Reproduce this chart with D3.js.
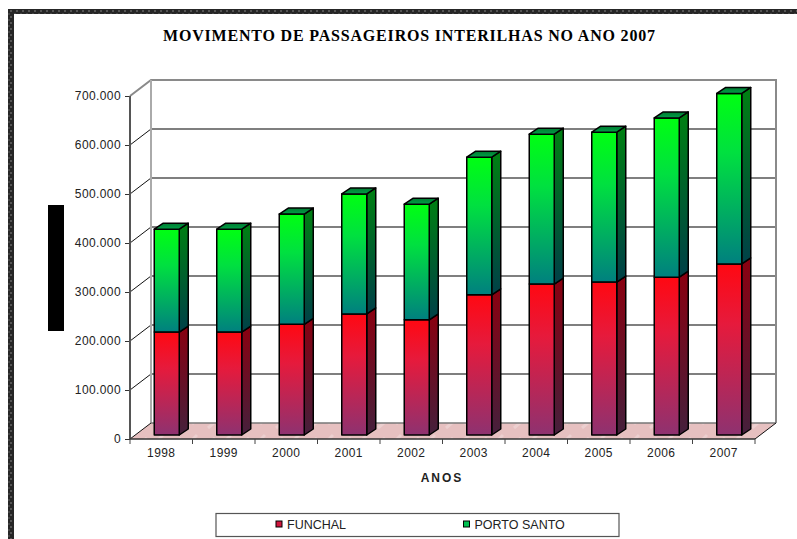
<!DOCTYPE html>
<html>
<head>
<meta charset="utf-8">
<script src="https://cdn.jsdelivr.net/npm/d3@7"></script>
<style>
  html, body { margin: 0; padding: 0; background: #fff; }
  svg { display: block; }
  text { font-family: "Liberation Sans", sans-serif; fill: #222; }
  .domain { display: none; }
</style>
</head>
<body>
<svg id="chart" width="797" height="539"></svg>
<script>
    // values
    const years = ["1998", "1999", "2000", "2001", "2002", "2003", "2004", "2005", "2006", "2007"];
    const funchal = [210000, 210000, 226000, 247000, 235000, 286000, 308000, 312000, 322000, 349000];
    const portoSanto = [210000, 210000, 225000, 245000, 236000, 281000, 306000, 306000, 325000, 348000];
    const yTicks = [0, 100000, 200000, 300000, 400000, 500000, 600000, 700000];
    const seriesNames = ["FUNCHAL", "PORTO SANTO"];

    let svg = d3.select("svg#chart");
    let defs = svg.append("defs");

    // 3D box of the chart: front plane, then how far the back wall is shifted
    let plot = { left: 130, right: 755, top: 96, bottom: 439 };
    let depth = { x: 21, y: -16 };
    // bars stand a bit inside the floor and take part of the depth
    let barShift = { x: 5.5, y: -4 };
    let barDepth = { x: 9, y: -6 };
    let barWidth = 25;

    const xScale = d3.scaleBand().domain(years).range([plot.left, plot.right]);
    const yScale = d3.scaleLinear().domain([0, 700000]).range([plot.bottom, plot.top]);
    const ptFormat = d3.formatLocale({ decimal: ",", thousands: ".", grouping: [3], currency: ["", ""] }).format(",");

    function verticalGradient(id, stops) {
      let g = defs.append("linearGradient").attr("id", id)
        .attr("x1", 0).attr("y1", 0).attr("x2", 0).attr("y2", 1);
      stops.forEach(s => g.append("stop").attr("offset", s[0]).attr("stop-color", s[1]));
    }
    verticalGradient("redFront", [["0%", "#ff0812"], ["35%", "#e61a3c"], ["100%", "#8e3270"]]);
    verticalGradient("redSide", [["0%", "#8a0010"], ["100%", "#45203c"]]);
    verticalGradient("greenFront", [["0%", "#00ff12"], ["35%", "#00e040"], ["100%", "#00807f"]]);
    verticalGradient("greenSide", [["0%", "#008012"], ["100%", "#004048"]]);
    verticalGradient("greenTop", [["0%", "#007a30"], ["100%", "#00a048"]]);

    // Dithered frame on the left and top of the picture
    let frame = defs.append("pattern").attr("id", "frame")
      .attr("width", 6).attr("height", 6).attr("patternUnits", "userSpaceOnUse")
      .attr("x", 8).attr("y", 9);
    frame.append("rect").attr("width", 6).attr("height", 6).attr("fill", "#262626");
    frame.append("rect").attr("x", 2).attr("y", 1).attr("width", 2).attr("height", 2).attr("fill", "#555");
    frame.append("rect").attr("x", 0).attr("y", 4).attr("width", 2).attr("height", 2).attr("fill", "#444");

    svg.append("rect").attr("x", 8).attr("y", 9).attr("width", 789).attr("height", 5).attr("fill", "url(#frame)");
    svg.append("rect").attr("x", 8).attr("y", 9).attr("width", 6).attr("height", 530).attr("fill", "url(#frame)");

    // Floor texture
    let floorTex = defs.append("pattern").attr("id", "floorTex")
      .attr("width", 34).attr("height", 16).attr("patternUnits", "userSpaceOnUse");
    floorTex.append("rect").attr("width", 34).attr("height", 16).attr("fill", "#e6c0c0");
    floorTex.append("path").attr("d", "M4 12L11 6M22 8L27 3").attr("stroke", "#eccfcf").attr("stroke-width", 3);

    // Back wall gridlines
    let walls = svg.append("g");
    let backLeft = plot.left + depth.x;
    let backRight = plot.right + depth.x;

    walls.selectAll("line.grid").data(yTicks.slice(1, -1)).enter().append("line")
      .attr("class", "grid")
      .attr("x1", backLeft).attr("x2", backRight)
      .attr("y1", d => yScale(d) + depth.y).attr("y2", d => yScale(d) + depth.y)
      .attr("stroke", "#555").attr("stroke-width", 1.3);

    // Diagonals on the left wall, coming out of each tick
    walls.selectAll("line.diag").data(yTicks.slice(1, -1)).enter().append("line")
      .attr("class", "diag")
      .attr("x1", plot.left).attr("x2", backLeft)
      .attr("y1", d => yScale(d)).attr("y2", d => yScale(d) + depth.y)
      .attr("stroke", "#111").attr("stroke-width", 1);

    // Outline of the back wall
    walls.append("path")
      .attr("d", d3.line()([
        [plot.left, yScale(700000)],
        [backLeft, yScale(700000) + depth.y],
        [backRight, yScale(700000) + depth.y],
        [backRight, yScale(0) + depth.y]
      ]))
      .attr("fill", "none").attr("stroke", "#8a8a8a").attr("stroke-width", 2);
    walls.append("line")
      .attr("x1", backLeft).attr("x2", backLeft)
      .attr("y1", yScale(700000) + depth.y).attr("y2", yScale(0) + depth.y)
      .attr("stroke", "#aaa").attr("stroke-width", 2);

    // Floor
    walls.append("polygon")
      .attr("points", [
        [plot.left, yScale(0)],
        [backLeft, yScale(0) + depth.y],
        [backRight, yScale(0) + depth.y],
        [plot.right, yScale(0)]
      ].join(" "))
      .attr("fill", "url(#floorTex)");
    walls.append("line")
      .attr("x1", backLeft).attr("x2", backRight)
      .attr("y1", yScale(0) + depth.y).attr("y2", yScale(0) + depth.y)
      .attr("stroke", "#777").attr("stroke-width", 1.5);
    walls.append("line")
      .attr("x1", plot.right).attr("x2", backRight)
      .attr("y1", yScale(0)).attr("y2", yScale(0) + depth.y)
      .attr("stroke", "#111").attr("stroke-width", 1);
    walls.append("line")
      .attr("x1", plot.left).attr("x2", backLeft)
      .attr("y1", yScale(0)).attr("y2", yScale(0) + depth.y)
      .attr("stroke", "#111").attr("stroke-width", 1);

    // Stacked bars
    let table = years.map((y, i) => ({ year: y, FUNCHAL: funchal[i], "PORTO SANTO": portoSanto[i] }));
    let stacked = d3.stack().keys(seriesNames)(table);
    let fills = [
      { front: "url(#redFront)", side: "url(#redSide)" },
      { front: "url(#greenFront)", side: "url(#greenSide)" }
    ];

    let barsLayer = svg.append("g").attr("stroke", "#000").attr("stroke-width", 1.5).attr("stroke-linejoin", "round");

    years.forEach((year, i) => {
      let x0 = xScale(year) + (xScale.bandwidth() - barWidth) / 2 + barShift.x;
      let x1 = x0 + barWidth;
      stacked.forEach((layer, s) => {
        let yBase = yScale(layer[i][0]) + barShift.y;
        let yTop = yScale(layer[i][1]) + barShift.y;

        barsLayer.append("polygon")
          .attr("points", [
            [x1, yTop], [x1 + barDepth.x, yTop + barDepth.y],
            [x1 + barDepth.x, yBase + barDepth.y], [x1, yBase]
          ].join(" "))
          .attr("fill", fills[s].side);

        barsLayer.append("rect")
          .attr("x", x0).attr("y", yTop)
          .attr("width", barWidth).attr("height", yBase - yTop)
          .attr("fill", fills[s].front);

        // only the top series shows its lid
        if (s === stacked.length - 1) {
          barsLayer.append("polygon")
            .attr("points", [
              [x0, yTop], [x0 + barDepth.x, yTop + barDepth.y],
              [x1 + barDepth.x, yTop + barDepth.y], [x1, yTop]
            ].join(" "))
            .attr("fill", "url(#greenTop)");
        }
      });
    });

    // Y axis
    let leftAxis = d3.axisLeft(yScale).tickValues(yTicks).tickFormat(ptFormat).tickSize(5).tickPadding(4);
    let yG = svg.append("g").attr("class", "y axis")
      .attr("transform", "translate(" + plot.left + ",0)")
      .call(leftAxis);
    yG.selectAll("text").style("font-size", "12px").style("letter-spacing", "0.4px");
    yG.selectAll("line").attr("stroke", "#333");
    svg.append("line")
      .attr("x1", plot.left).attr("x2", plot.left)
      .attr("y1", yScale(700000)).attr("y2", yScale(0))
      .attr("stroke", "#555").attr("stroke-width", 2);

    // X axis, ticks sit between the categories so they get drawn on their own
    let bottomAxis = d3.axisBottom(xScale).tickSize(0).tickPadding(9);
    let xG = svg.append("g").attr("class", "x axis")
      .attr("transform", "translate(0," + plot.bottom + ")")
      .call(bottomAxis);
    xG.selectAll("text").style("font-size", "12px").style("letter-spacing", "0.4px");
    svg.append("line")
      .attr("x1", plot.left).attr("x2", plot.right)
      .attr("y1", plot.bottom).attr("y2", plot.bottom)
      .attr("stroke", "#333").attr("stroke-width", 1.5);
    svg.selectAll("line.xtick").data(years.concat(["end"])).enter().append("line")
      .attr("class", "xtick")
      .attr("x1", d => d === "end" ? plot.right : xScale(d))
      .attr("x2", d => d === "end" ? plot.right : xScale(d))
      .attr("y1", plot.bottom).attr("y2", plot.bottom + 5)
      .attr("stroke", "#444");

    // Title and axis titles
    svg.append("text")
      .attr("x", 163).attr("y", 40.5)
      .attr("textLength", 492).attr("lengthAdjust", "spacing")
      .style("font-family", "'Liberation Serif', serif")
      .style("font-size", "16px").style("font-weight", "bold").style("fill", "#000")
      .text("MOVIMENTO DE PASSAGEIROS INTERILHAS NO ANO 2007");

    svg.append("text")
      .attr("x", 442).attr("y", 482).attr("text-anchor", "middle")
      .style("font-size", "12px").style("font-weight", "bold").style("letter-spacing", "2px")
      .text("ANOS");

    // Black block where the y axis title was in the original
    svg.append("rect").attr("x", 48).attr("y", 205).attr("width", 16).attr("height", 126).attr("fill", "#000");

    // Legend
    svg.append("rect")
      .attr("x", 216).attr("y", 513.5).attr("width", 403).attr("height", 23)
      .attr("fill", "#fff").attr("stroke", "#555").attr("stroke-width", 1.2);
    let legendX = d3.scaleOrdinal().domain(seriesNames).range([276, 463.5]);
    let legendFill = d3.scaleOrdinal().domain(seriesNames).range(["#d0143c", "#00c050"]);
    let legend = svg.selectAll("g.legendItem").data(seriesNames).enter().append("g")
      .attr("class", "legendItem")
      .attr("transform", d => "translate(" + legendX(d) + ",521)");
    legend.append("rect")
      .attr("width", 6).attr("height", 6)
      .attr("fill", d => legendFill(d)).attr("stroke", "#000").attr("stroke-width", 1);
    legend.append("text")
      .attr("x", 11).attr("y", 7.5)
      .style("font-size", "12.5px")
      .text(d => d);
</script>
</body>
</html>
